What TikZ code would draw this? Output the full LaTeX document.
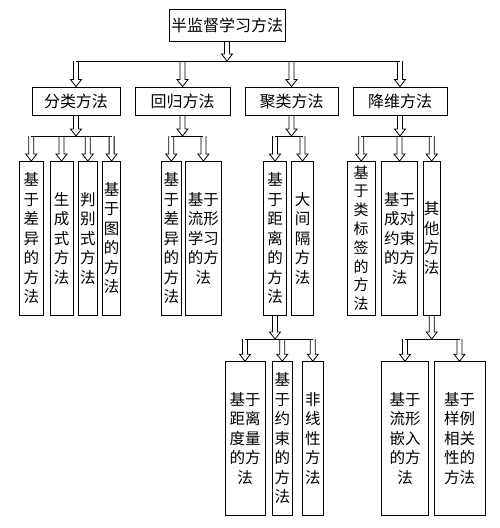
\documentclass[tikz,border=0pt]{standalone}
\usepackage{fontspec}
\newfontfamily\cjk{Noto Sans CJK SC}
\usetikzlibrary{calc}
\begin{document}
\begin{tikzpicture}[x=1pt,y=-1pt, line width=0.9pt,
  box/.style={draw, inner sep=0pt, align=center, font=\cjk\fontsize{15.5}{19.5}\selectfont},
  hbox/.style={box, font=\cjk\fontsize{16}{19}\selectfont},
  lthree/.style={box, minimum height=153.5pt},
  lfour/.style={box, minimum height=153.3pt},
  harrow/.style={line width=0.8pt, to path={let \p1=(\tikztostart), \p2=(\tikztotarget) in
    (\x1-2.5pt,\y1) -- (\x1-2.5pt,\y2+7pt) -- (\x1-5.5pt,\y2+7pt) -- (\x1,\y2)
    -- (\x1+5.5pt,\y2+7pt) -- (\x1+2.5pt,\y2+7pt) -- (\x1+2.5pt,\y1)}}
]
\useasboundingbox (0,0) rectangle (500,528);

% level 1
\node[hbox, minimum width=116pt, minimum height=32pt] (top) at (227,25) {半监督学习方法};
% level 2
\node[hbox, minimum width=88pt, minimum height=28pt] (cls) at (76,101) {分类方法};
\node[hbox, minimum width=95pt, minimum height=28pt] (reg) at (182.5,101) {回归方法};
\node[hbox, minimum width=93pt, minimum height=28pt] (clu) at (291.5,101) {聚类方法};
\node[hbox, minimum width=94pt, minimum height=28pt] (dim) at (400,101) {降维方法};

% level 3
\node[lthree, minimum width=24pt] (a) at (31.3,238.25) {基\\于\\差\\异\\的\\方\\法};
\node[lthree, minimum width=23pt] (b) at (61.5,238.25) {生\\成\\式\\方\\法};
\node[lthree, minimum width=19pt] (c) at (87.8,238.25) {判\\别\\式\\方\\法};
\node[lthree, minimum width=18pt] (d) at (111.6,238.25) {基\\于\\图\\的\\方\\法};
\node[lthree, minimum width=19.5pt] (e) at (171.3,238.25) {基\\于\\差\\异\\的\\方\\法};
\node[lthree, minimum width=35.3pt] (f) at (203.4,238.25) {基于\\流形\\学习\\的方\\法};
\node[lthree, minimum width=23.4pt] (g) at (275,238.25) {基\\于\\距\\离\\的\\方\\法};
\node[lthree, minimum width=21.6pt] (h) at (302.5,238.25) {大\\间\\隔\\方\\法};
\node[lthree, minimum width=27.7pt, font=\cjk\fontsize{15}{18.8}\selectfont] (i) at (361.2,238.25) {基\\于\\类\\标\\签\\的\\方\\法};
\node[lthree, minimum width=35.6pt] (j) at (399.5,238.25) {基于\\成对\\约束\\的方\\法};
\node[lthree, minimum width=16.7pt] (k) at (431.7,238.25) {其\\他\\方\\法};

% level 4
\node[lfour, minimum width=40pt] (l) at (245,438.3) {基于\\距离\\度量\\的方\\法};
\node[lfour, minimum width=20pt] (m) at (282.3,438.3) {基\\于\\约\\束\\的\\方\\法};
\node[lfour, minimum width=21pt] (n) at (312.8,438.3) {非\\线\\性\\方\\法};
\node[lfour, minimum width=46.6pt] (o) at (405,438.3) {基于\\流形\\嵌入\\的方\\法};
\node[lfour, minimum width=51pt] (p) at (459.5,438.3) {基于\\样例\\相关\\性的\\方法};

% bar levels
\coordinate (b1) at (0,61);
\coordinate (b2) at (0,136);
\coordinate (b3) at (0,339);

% level 1 -> 2
\draw[harrow] (top.south) to (top.south |- b1);
\draw (cls.north |- b1) -- (dim.north |- b1);
\foreach \t in {cls,reg,clu,dim} \draw[harrow] (\t.north |- b1) to (\t.north);

% level 2 -> 3
\draw[harrow] (cls.south) to (cls.south |- b2);
\draw (a.north |- b2) -- (d.north |- b2);
\foreach \t in {a,b,c,d} \draw[harrow] (\t.north |- b2) to (\t.north);

\draw[harrow] (reg.south) to (reg.south |- b2);
\draw (e.north |- b2) -- (f.north |- b2);
\foreach \t in {e,f} \draw[harrow] (\t.north |- b2) to (\t.north);

\draw[harrow] (clu.south) to (clu.south |- b2);
\draw (g.north |- b2) -- (h.north |- b2);
\foreach \t in {g,h} \draw[harrow] (\t.north |- b2) to (\t.north);

\draw[harrow] (dim.south) to (dim.south |- b2);
\draw (i.north |- b2) -- (k.north |- b2);
\foreach \t in {i,j,k} \draw[harrow] (\t.north |- b2) to (\t.north);

% level 3 -> 4
\draw[harrow] (g.south) to (g.south |- b3);
\draw (l.north |- b3) -- (n.north |- b3);
\foreach \t in {l,m,n} \draw[harrow] (\t.north |- b3) to (\t.north);

\draw[harrow] (k.south) to (k.south |- b3);
\draw (o.north |- b3) -- (p.north |- b3);
\foreach \t in {o,p} \draw[harrow] (\t.north |- b3) to (\t.north);
\end{tikzpicture}
\end{document}
